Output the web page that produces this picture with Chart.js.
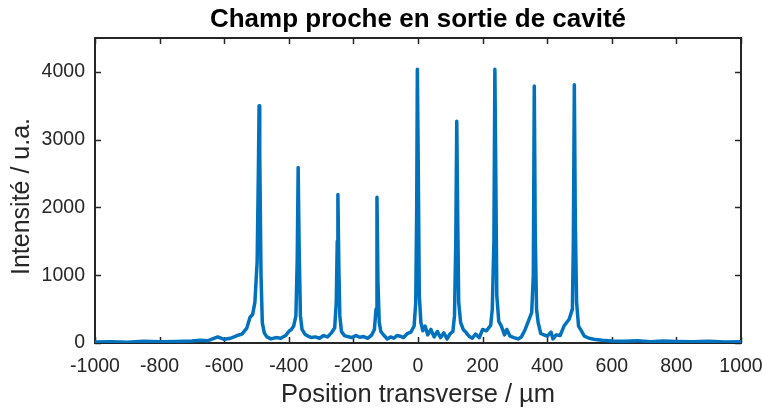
<!DOCTYPE html>
<html>
<head>
<meta charset="utf-8">
<script src="https://cdn.jsdelivr.net/npm/chart.js@4.4.1/dist/chart.umd.min.js"></script>
<style>
  html, body { margin: 0; padding: 0; background: #fff; }
  #champ { display: block; }
</style>
</head>
<body>
<canvas id="champ" width="762" height="412"></canvas>
<script>
// Champ proche : profil d'intensité en sortie de cavité

var position = [
  -1000, -950, -900, -850, -800, -750, -700, -675, -650, -620, -600, -580, -560, -545, -530,
  -520, -512, -505, -498, -494, -492, -490, -486, -482, -476, -468, -455, -440, -425, -410,
  -400, -392, -385, -378, -374, -371, -368, -364, -359, -350, -340, -330, -318, -305, -292,
  -280, -268, -258, -253, -250, -248, -245, -242, -237, -228, -218, -205, -192, -180, -168,
  -155, -143, -135, -130, -127, -124, -120, -115, -105, -95, -85, -75, -65, -55, -45,
  -33, -22, -12, -7, -4, -2, 1, 4, 9, 15, 22, 30, 40, 50, 60,
  70, 80, 90, 100, 108, 113, 117, 120, 123, 126, 132, 140, 148, 158, 168,
  178, 190, 200, 212, 225, 230, 235, 238, 241, 244, 250, 258, 268, 275, 285,
  297, 310, 320, 330, 340, 352, 357, 360, 363, 367, 372, 380, 390, 400, 412,
  418, 428, 440, 452, 468, 478, 481, 484, 487, 491, 497, 506, 515, 530, 550,
  570, 600, 640, 680, 720, 760, 800, 850, 900, 950, 1000
];

var intensite = [
  15, 20, 12, 25, 18, 22, 30, 40, 35, 90, 55, 70, 110, 130, 220,
  380, 420, 600, 1200, 2600, 3500, 2800, 1000, 300, 150, 90, 60, 80, 70, 110,
  170, 200, 250, 400, 1200, 2590, 1400, 400, 200, 130, 100, 80, 90, 70, 110,
  90, 150, 220, 600, 1500, 2190, 1100, 400, 170, 110, 95, 80, 110, 85, 95,
  70, 120, 200, 500, 2150, 900, 300, 170, 110, 60, 90, 70, 110, 100, 80,
  140, 160, 250, 600, 2000, 4040, 2500, 700, 300, 180, 250, 120, 200, 90, 170,
  80, 150, 60, 140, 170, 400, 1500, 3270, 1800, 600, 300, 200, 160, 100, 70,
  130, 80, 200, 180, 260, 500, 1500, 4040, 2400, 700, 320, 250, 120, 200, 100,
  80, 60, 90, 180, 300, 450, 1000, 3790, 1600, 500, 300, 140, 120, 100, 160,
  60, 120, 110, 250, 350, 500, 1500, 3810, 1800, 600, 250, 180, 100, 70, 50,
  40, 30, 25, 35, 20, 28, 22, 18, 25, 15, 20
];

var xTicks = [-1000, -800, -600, -400, -200, 0, 200, 400, 600, 800, 1000];
var yTicks = [0, 1000, 2000, 3000, 4000];

var titre = 'Champ proche en sortie de cavité';
var titreY = 'Intensité / u.a.';
var axisColor = '#262626';
var fontFamily = '"Liberation Sans", Arial, Helvetica, sans-serif';

// cadre + graduations vers l'intérieur sur les quatre côtés, titres dessinés à la main
var cadre = {
  id: 'cadre',
  beforeDatasetsDraw: function (chart) {
    var ctx = chart.ctx, a = chart.chartArea;
    var sx = chart.scales.x, sy = chart.scales.y;
    var len = 6;
    ctx.save();
    ctx.strokeStyle = axisColor;
    ctx.lineWidth = 1.5;
    ctx.beginPath();
    xTicks.forEach(function (v) {
      var px = Math.round(sx.getPixelForValue(v)) + 0.5;
      ctx.moveTo(px, a.bottom); ctx.lineTo(px, a.bottom - len);
      ctx.moveTo(px, a.top); ctx.lineTo(px, a.top + len);
    });
    yTicks.forEach(function (v) {
      var py = Math.round(sy.getPixelForValue(v)) + 0.5;
      ctx.moveTo(a.left, py); ctx.lineTo(a.left + len, py);
      ctx.moveTo(a.right, py); ctx.lineTo(a.right - len, py);
    });
    ctx.stroke();
    ctx.lineWidth = 2;
    ctx.strokeRect(a.left, a.top, a.right - a.left, a.bottom - a.top);
    ctx.restore();
  },
  afterDraw: function (chart) {
    var ctx = chart.ctx, a = chart.chartArea;
    ctx.save();
    ctx.fillStyle = '#000';
    ctx.font = 'bold 26px ' + fontFamily;
    ctx.textAlign = 'center';
    ctx.textBaseline = 'alphabetic';
    ctx.fillText(titre, (a.left + a.right) / 2, 27);

    ctx.fillStyle = axisColor;
    ctx.font = '25px ' + fontFamily;
    ctx.translate(22, (a.top + a.bottom) / 2 + 6);
    ctx.rotate(-Math.PI / 2);
    ctx.textBaseline = 'middle';
    ctx.fillText(titreY, 0, 0);
    ctx.restore();
  }
};

new Chart(document.getElementById('champ'), {
  type: 'line',
  data: {
    datasets: [{
      data: position.map(function (x, i) { return { x: x, y: intensite[i] }; }),
      borderColor: '#0072BD',
      borderWidth: 3.5,
      borderJoinStyle: 'round',
      borderCapStyle: 'round',
      pointRadius: 0,
      tension: 0,
      fill: false
    }]
  },
  options: {
    responsive: false,
    animation: false,
    devicePixelRatio: 1,
    layout: { padding: { left: 0, right: 21, top: 38, bottom: 0 } },
    plugins: {
      legend: { display: false },
      tooltip: { enabled: false },
      title: { display: false }
    },
    scales: {
      x: {
        type: 'linear',
        min: -1000,
        max: 1000,
        afterBuildTicks: function (s) { s.ticks = xTicks.map(function (v) { return { value: v }; }); },
        afterFit: function (s) { s.height = 69; s.paddingLeft = 0; s.paddingRight = 0; },
        ticks: {
          color: axisColor, font: { family: fontFamily, size: 19.5 }, padding: 12,
          maxRotation: 0, autoSkip: false,
          callback: function (v) { return String(v); }
        },
        grid: { display: false, drawTicks: false },
        border: { display: false },
        title: {
          display: true,
          text: 'Position transverse / µm',
          color: axisColor,
          font: { family: fontFamily, size: 25.5 },
          padding: { top: 0, bottom: 2 }
        }
      },
      y: {
        min: 0,
        max: 4500,
        afterBuildTicks: function (s) { s.ticks = yTicks.map(function (v) { return { value: v }; }); },
        afterFit: function (s) { s.width = 95; s.paddingTop = 0; s.paddingBottom = 0; },
        ticks: {
          color: axisColor, font: { family: fontFamily, size: 19.5 }, padding: 10,
          callback: function (v) { return String(v); }
        },
        grid: { display: false, drawTicks: false },
        border: { display: false },
        title: { display: false }
      }
    }
  },
  plugins: [cadre]
});
</script>
</body>
</html>
